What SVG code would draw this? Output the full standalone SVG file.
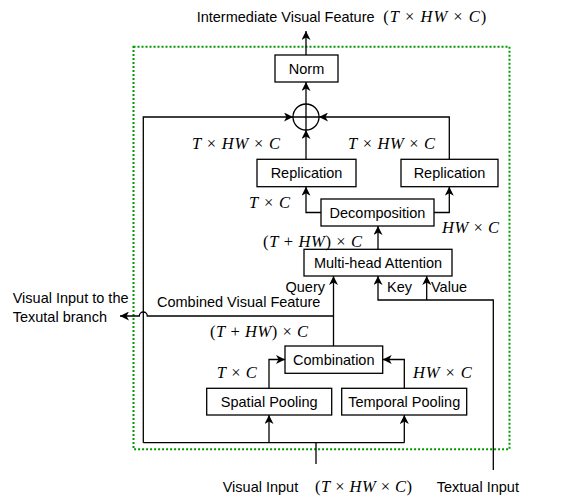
<svg xmlns="http://www.w3.org/2000/svg" width="572" height="498" viewBox="0 0 572 498">
<style>
.box{fill:#fff;stroke:#000;stroke-width:1.3}
.lbl{font-family:"Liberation Sans",Arial,sans-serif;font-size:14.5px;fill:#000}
.c{text-anchor:middle}
.m{font-family:"Liberation Serif","Times New Roman",serif;font-size:16.5px;fill:#000}
.i{font-style:italic}
.ln{fill:none;stroke:#000;stroke-width:1.3}
.arr{marker-end:url(#ah)}
</style>
<defs>
<marker id="ah" markerUnits="userSpaceOnUse" markerWidth="10" markerHeight="9" refX="9" refY="4.5" orient="auto" viewBox="0 0 10 9">
<path d="M0,0 L9,4.5 L0,9 L2.5,4.5 z" fill="#000"/>
</marker>
</defs>
<rect width="572" height="498" fill="#fff"/>
<rect id="frame" x="133.5" y="46.7" width="376" height="402.6" fill="none" stroke="#009900" stroke-width="2" stroke-dasharray="2 2"/>

<g id="connectors">
<path class="ln arr" d="M306,55 V31"/>
<path class="ln arr" d="M306,104 V82"/>
<path class="ln arr" d="M306,159.3 V130"/>
<path class="ln" d="M293,117 H319 M306,104 V130"/>
<path class="ln arr" d="M143.3,442.7 V117 H293"/>
<path class="ln arr" d="M449.3,159.3 V117 H319"/>
<path class="ln arr" d="M321,212.5 H306 V186.7"/>
<path class="ln arr" d="M434,212.5 H449.3 V186.7"/>
<path class="ln arr" d="M378,249.3 V226"/>
<path class="ln arr" d="M333.5,346 V276"/>
<path class="ln arr" d="M493.3,470 V300 H378 V276"/>
<path class="ln arr" d="M426.7,300 V276"/>
<path class="ln arr" d="M333.5,316 H147.3 A4,4 0 0 0 139.3,316 H120"/>
<path class="ln arr" d="M269,388.3 V359.5 H285"/>
<path class="ln arr" d="M404.3,388.3 V359.5 H382.7"/>
<path class="ln" d="M143.3,442.7 H404.3"/>
<path class="ln arr" d="M269,442.7 V415"/>
<path class="ln arr" d="M404.3,442.7 V415"/>
<path class="ln" d="M316,442.7 V464"/>
</g>

<g id="norm"><rect class="box" x="275" y="55" width="63" height="27"/><text class="lbl c" x="306.5" y="73.5">Norm</text></g>
<g id="sum"><circle cx="306" cy="117" r="13" fill="none" stroke="#000" stroke-width="1.3"/></g>
<g id="replication-left"><rect class="box" x="257" y="159.3" width="99" height="27.4"/><text class="lbl c" x="306.5" y="178">Replication</text></g>
<g id="replication-right"><rect class="box" x="401" y="159.3" width="97" height="27.4"/><text class="lbl c" x="449.5" y="178">Replication</text></g>
<g id="decomposition"><rect class="box" x="321" y="199" width="113" height="27"/><text class="lbl c" x="377.5" y="217.5">Decomposition</text></g>
<g id="mha"><rect class="box" x="304" y="249.3" width="148" height="26.7"/><text class="lbl c" x="378" y="268">Multi-head Attention</text></g>
<g id="combination"><rect class="box" x="285" y="346" width="97.7" height="27.3"/><text class="lbl c" x="333.8" y="364.5">Combination</text></g>
<g id="spatial"><rect class="box" x="206.7" y="388.3" width="125" height="26.7"/><text class="lbl c" x="269.2" y="407">Spatial Pooling</text></g>
<g id="temporal"><rect class="box" x="341.7" y="388.3" width="125" height="26.7"/><text class="lbl c" x="404.2" y="407">Temporal Pooling</text></g>

<g id="labels">
<text class="lbl" x="196.7" y="22">Intermediate Visual Feature</text>
<text class="m" x="383.3" y="22" textLength="103" lengthAdjust="spacing">(<tspan class="i">T</tspan> × <tspan class="i">HW</tspan> × <tspan class="i">C</tspan>)</text>
<text class="m" x="192" y="149" textLength="88" lengthAdjust="spacing"><tspan class="i">T</tspan> × <tspan class="i">HW</tspan> × <tspan class="i">C</tspan></text>
<text class="m" x="348" y="149" textLength="87" lengthAdjust="spacing"><tspan class="i">T</tspan> × <tspan class="i">HW</tspan> × <tspan class="i">C</tspan></text>
<text class="m" x="249" y="208" textLength="41" lengthAdjust="spacing"><tspan class="i">T</tspan> × <tspan class="i">C</tspan></text>
<text class="m" x="442" y="233" textLength="57" lengthAdjust="spacing"><tspan class="i">HW</tspan> × <tspan class="i">C</tspan></text>
<text class="m" x="263" y="247" textLength="99" lengthAdjust="spacing">(<tspan class="i">T</tspan> + <tspan class="i">HW</tspan>) × <tspan class="i">C</tspan></text>
<text class="lbl" x="325" y="292" text-anchor="end">Query</text>
<text class="lbl" x="387" y="292">Key</text>
<text class="lbl" x="431" y="292">Value</text>
<text class="lbl" x="157" y="307">Combined Visual Feature</text>
<text class="lbl" x="12.7" y="303">Visual Input to the</text>
<text class="lbl" x="12.7" y="322">Texutal branch</text>
<text class="m" x="210" y="337" textLength="98" lengthAdjust="spacing">(<tspan class="i">T</tspan> + <tspan class="i">HW</tspan>) × <tspan class="i">C</tspan></text>
<text class="m" x="216.7" y="378" textLength="40" lengthAdjust="spacing"><tspan class="i">T</tspan> × <tspan class="i">C</tspan></text>
<text class="m" x="413" y="378" textLength="58.7" lengthAdjust="spacing"><tspan class="i">HW</tspan> × <tspan class="i">C</tspan></text>
<text class="lbl" x="222.7" y="492">Visual Input</text>
<text class="m" x="315" y="492" textLength="97" lengthAdjust="spacing">(<tspan class="i">T</tspan> × <tspan class="i">HW</tspan> × <tspan class="i">C</tspan>)</text>
<text class="lbl" x="436.7" y="492">Textual Input</text>
</g>
</svg>
